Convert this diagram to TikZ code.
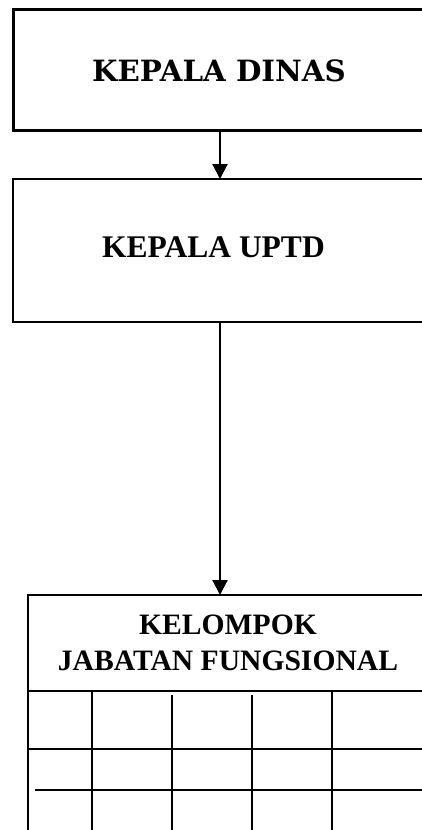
\documentclass[tikz,border=0pt]{standalone}
\usepackage{fontspec}
\setmainfont{Liberation Serif}
\newfontfamily\dvs{DejaVu Serif}
\usetikzlibrary{arrows.meta}
\tikzset{
  boxline/.style={line width=2.6pt},
  gridline/.style={line width=1.6pt},
  conn/.style={line width=2.2pt,-{Triangle[width=15pt,length=15pt]}},
  titleA/.style={anchor=base,inner sep=0pt,font=\dvs\bfseries\fontsize{29.3}{34}\selectfont},
  titleB/.style={anchor=base,inner sep=0pt,font=\bfseries\fontsize{31.5}{36}\selectfont},
  titleC/.style={anchor=base,inner sep=0pt,font=\bfseries\fontsize{29.6}{36}\selectfont},
}
\begin{document}
\begin{tikzpicture}[x=1pt,y=-1pt]
\useasboundingbox (0,0) rectangle (421,830);
% box 1
\draw[boxline,line width=3pt] (425,9) -- (13,9) -- (13,130) -- (425,130);
\coordinate (b1) at (220,130);
\node[titleA] (t1) at (219,81.5) {KEPALA DINAS};
% box 2
\draw[boxline] (425,179) -- (13,179) -- (13,322) -- (425,322);
\coordinate (b2top) at (220,179);
\coordinate (b2) at (220,322);
\node[titleB] (t2) at (213.5,257) {KEPALA UPTD};
% box 3
\draw[gridline,line width=2pt] (425,595) -- (28,595) -- (28,834);
\coordinate (b3top) at (220,595);
\node[titleC] (t3a) at (228,634) {KELOMPOK};
\node[titleC] (t3b) at (228,670) {JABATAN FUNGSIONAL};
\draw[gridline,line width=2pt] (28,691) -- (425,691);
\draw[gridline] (28,749) -- (425,749);
\draw[gridline] (35,790) -- (425,790);
\draw[gridline] (92,691) -- (92,834);
\draw[gridline] (172,695) -- (172,834);
\draw[gridline] (252,695) -- (252,834);
\draw[gridline] (332,691) -- (332,834);
% connectors
\draw[conn] (b1) -- (b2top);
\draw[conn] (b2) -- (b3top);
\end{tikzpicture}
\end{document}
